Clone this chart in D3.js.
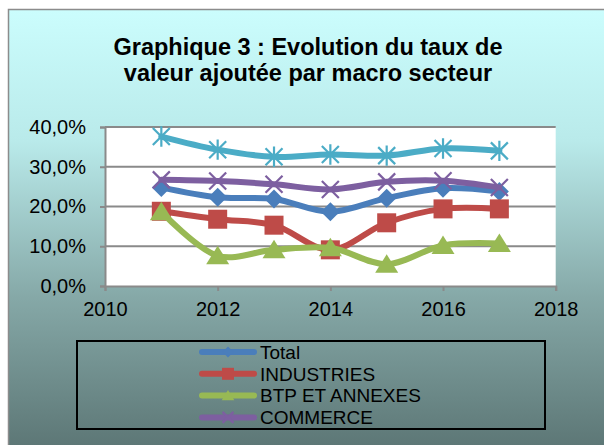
<!DOCTYPE html>
<html>
<head>
<meta charset="utf-8">
<script src="https://cdn.jsdelivr.net/npm/d3@7"></script>
<style>
  body { margin: 0; background: #fff; }
  text { font-family: "Liberation Sans", Arial, sans-serif; }
</style>
</head>
<body>
<script>
  const years = [2011, 2012, 2013, 2014, 2015, 2016, 2017];
  const seriesNames = ["Total", "INDUSTRIES", "BTP ET ANNEXES", "COMMERCE", "SERVICES"];
  const total = [24.8, 22.3, 21.9, 18.7, 22.1, 24.6, 23.8];
  const industries = [18.8, 16.8, 15.3, 9.1, 15.9, 19.4, 19.4];
  const btp = [18.7, 7.6, 9.1, 9.6, 5.5, 10.2, 10.7];
  const commerce = [26.7, 26.4, 25.6, 24.3, 26.2, 26.5, 24.8];
  const services = [37.6, 34.3, 32.5, 33.1, 32.8, 34.6, 34.0];
  const xTicks = [2010, 2012, 2014, 2016, 2018];
  const yTicks = [0, 10, 20, 30, 40];
  const legendCount = 4; // the fifth entry falls outside the legend box

  const w = 604, h = 445;
  const colors = ["#4a7ebb", "#be4b48", "#98b954", "#7d5fa0", "#4bacc6"];
  const symbols = ["diamond", "square", "triangle", "cross", "star"];

  const svg = d3.select("body").append("svg")
    .attr("width", w).attr("height", h);

  const grad = svg.append("defs").append("linearGradient")
    .attr("id", "bg").attr("x1", 0).attr("y1", 0).attr("x2", 0).attr("y2", 1);
  grad.append("stop").attr("offset", "0%").attr("stop-color", "#cbfdfd");
  grad.append("stop").attr("offset", "30%").attr("stop-color", "#b9eaea");
  grad.append("stop").attr("offset", "65%").attr("stop-color", "#86a9a8");
  grad.append("stop").attr("offset", "100%").attr("stop-color", "#5c7675");

  svg.append("rect")
    .attr("x", 8.5).attr("y", 9.5).attr("width", 600).attr("height", 440)
    .attr("fill", "url(#bg)").attr("stroke", "#8c8c8c").attr("stroke-width", 1.5);

  // title
  svg.append("text")
    .attr("x", 308).attr("text-anchor", "middle")
    .attr("font-size", "23.5px").attr("font-weight", "bold").attr("fill", "#000")
    .selectAll("tspan")
    .data(["Graphique 3 : Evolution du taux de", "valeur ajoutée par macro secteur"])
    .join("tspan")
    .attr("x", 308)
    .attr("y", (d, i) => 55 + i * 26)
    .text(d => d);

  const x = d3.scaleLinear().domain([2010, 2018]).range([105, 555.7]);
  const y = d3.scaleLinear().domain([0, 40]).range([286, 127]);

  svg.append("rect")
    .attr("x", x(2010)).attr("y", y(40))
    .attr("width", x(2018) - x(2010)).attr("height", y(0) - y(40))
    .attr("fill", "#fff");

  // gridlines
  svg.append("g").selectAll("line")
    .data(yTicks.slice(1))
    .join("line")
    .attr("x1", x(2010)).attr("x2", x(2018))
    .attr("y1", d => y(d)).attr("y2", d => y(d))
    .attr("stroke", "#8a8a8a").attr("stroke-width", 2);

  const yAxis = svg.append("g")
    .attr("transform", `translate(${x(2010)},0)`)
    .call(d3.axisLeft(y).tickValues(yTicks).tickSize(5).tickPadding(14)
      .tickFormat(d => d3.format(".1f")(d).replace(".", ",") + "%"));

  const xAxis = svg.append("g")
    .attr("transform", `translate(0,${y(0)})`)
    .call(d3.axisBottom(x).tickValues(xTicks).tickSize(5).tickPadding(8)
      .tickFormat(d3.format("d")));

  [yAxis, xAxis].forEach(g => {
    g.select(".domain").attr("stroke", "#8a8a8a").attr("stroke-width", 2);
    g.selectAll(".tick line").attr("stroke", "#8a8a8a").attr("stroke-width", 2);
    g.selectAll(".tick text").attr("font-size", "20px").attr("fill", "#000")
      .attr("font-family", "Liberation Sans, Arial, sans-serif");
  });
  xAxis.selectAll(".tick text").attr("dy", "0.85em");

  const series = [total, industries, btp, commerce, services].map((vals, i) => ({
    name: seriesNames[i], color: colors[i], symbol: symbols[i],
    points: years.map((yr, j) => ({ year: yr, value: vals[j] }))
  }));

  const line = d3.line()
    .x(d => x(d.year)).y(d => y(d.value))
    .curve(d3.curveCatmullRom.alpha(0.5));

  function drawMarker(g, type, color, s) {
    if (type === "diamond") {
      g.append("path").attr("d", `M0,${-s}L${s},0L0,${s}L${-s},0Z`).attr("fill", color);
    } else if (type === "square") {
      g.append("rect").attr("x", -s).attr("y", -s).attr("width", 2 * s).attr("height", 2 * s)
        .attr("fill", color);
    } else if (type === "triangle") {
      g.append("path").attr("d", `M0,${-s}L${s * 1.15},${s * 0.85}L${-s * 1.15},${s * 0.85}Z`)
        .attr("fill", color);
    } else if (type === "cross") {
      g.append("path").attr("d", `M${-s},${-s}L${s},${s}M${-s},${s}L${s},${-s}`)
        .attr("stroke", color).attr("stroke-width", 2.2).attr("fill", "none");
    } else if (type === "star") {
      g.append("path")
        .attr("d", `M${-s},${-s}L${s},${s}M${-s},${s}L${s},${-s}M0,${-s * 1.2}L0,${s * 1.2}`)
        .attr("stroke", color).attr("stroke-width", 2.2).attr("fill", "none");
    }
  }

  const markerSize = { diamond: 9.5, square: 9.5, triangle: 10, cross: 8.5, star: 8.5 };

  series.forEach(s => {
    const g = svg.append("g");
    g.append("path").datum(s.points)
      .attr("d", line)
      .attr("fill", "none").attr("stroke", s.color)
      .attr("stroke-width", 6).attr("stroke-linejoin", "round").attr("stroke-linecap", "round");
    g.selectAll("g.m").data(s.points).join("g")
      .attr("class", "m")
      .attr("transform", d => `translate(${x(d.year)},${y(d.value)})`)
      .each(function () { drawMarker(d3.select(this), s.symbol, s.color, markerSize[s.symbol]); });
  });

  // legend
  const legend = svg.append("g");
  legend.append("rect")
    .attr("x", 77).attr("y", 341).attr("width", 468).attr("height", 88)
    .attr("fill", "none").attr("stroke", "#000").attr("stroke-width", 2);

  const items = legend.selectAll("g.item")
    .data(series.slice(0, legendCount))
    .join("g")
    .attr("class", "item")
    .attr("transform", (d, i) => `translate(0,${352 + i * 21.8})`);

  items.append("line")
    .attr("x1", 202).attr("x2", 254).attr("y1", 0).attr("y2", 0)
    .attr("stroke", d => d.color).attr("stroke-width", 6).attr("stroke-linecap", "round");
  items.append("g")
    .attr("transform", "translate(228,0)")
    .each(function (d) {
      drawMarker(d3.select(this), d.symbol, d.color, d.symbol === "square" ? 6 : 5.5);
    });
  items.append("text")
    .attr("x", 260).attr("y", 0).attr("dy", "0.36em")
    .attr("font-size", "19px").attr("fill", "#000")
    .text(d => d.name);
</script>
</body>
</html>
